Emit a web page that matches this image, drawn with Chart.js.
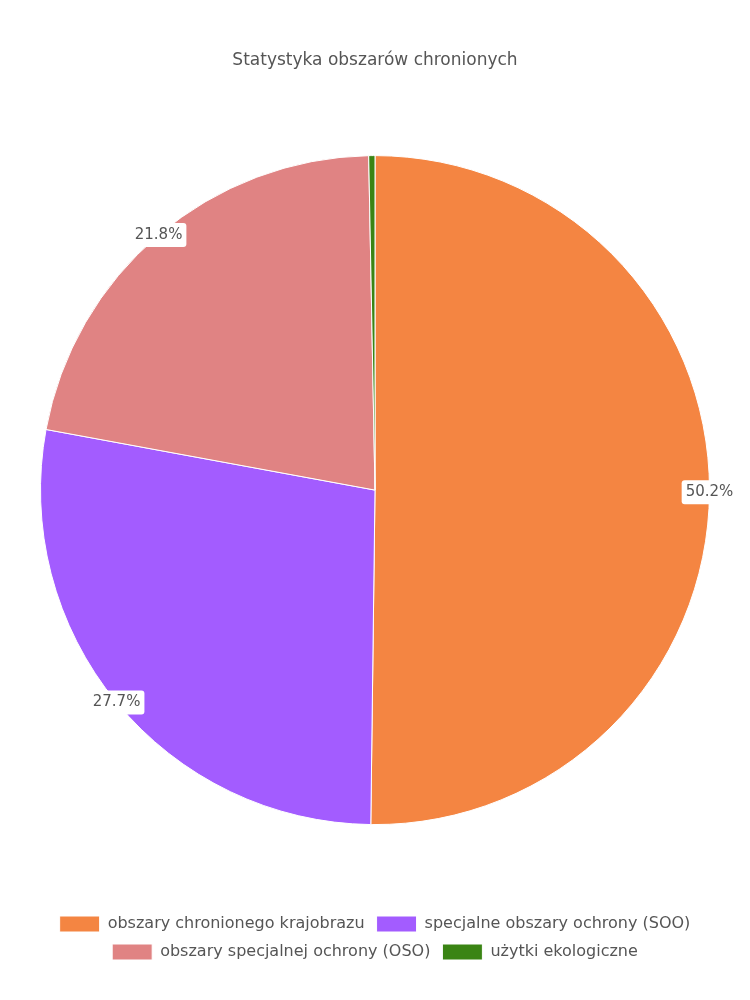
<!DOCTYPE html>
<html>
<head>
<meta charset="utf-8">
<script src="https://cdn.jsdelivr.net/npm/chart.js@4"></script>
<style>
  html, body { margin: 0; padding: 0; background: #fff; }
  #wrap { width: 750px; height: 1000px; }
</style>
</head>
<body>
<div id="wrap"><canvas id="c"></canvas></div>
<script>
const labels = ['obszary chronionego krajobrazu', 'specjalne obszary ochrony (SOO)', 'obszary specjalnej ochrony (OSO)', 'użytki ekologiczne'];
const values = [50.2, 27.7, 21.8, 0.3];
const colors = ['#f48542', '#a35cff', '#e08383', '#3a8414'];

// percent labels sitting on the outer edge of each slice
const edgeLabels = {
  id: 'edgeLabels',
  afterDatasetsDraw(chart) {
    const ctx = chart.ctx;
    const meta = chart.getDatasetMeta(0);
    ctx.save();
    ctx.font = '15px "DejaVu Sans"';
    ctx.textAlign = 'center';
    ctx.textBaseline = 'middle';
    meta.data.forEach((arc, i) => {
      if (values[i] < 2) return;
      const mid = (arc.startAngle + arc.endAngle) / 2;
      const x = arc.x + Math.cos(mid) * arc.outerRadius;
      const y = arc.y + Math.sin(mid) * arc.outerRadius;
      const text = values[i].toFixed(1) + '%';
      const w = ctx.measureText(text).width + 8;
      ctx.fillStyle = '#fff';
      ctx.beginPath();
      ctx.roundRect(x - w / 2, y - 12, w, 24, 3);
      ctx.fill();
      ctx.fillStyle = '#555';
      ctx.fillText(text, x, y);
    });
    ctx.restore();
  }
};

new Chart(document.getElementById('c'), {
  type: 'pie',
  data: {
    labels: labels,
    datasets: [{
      data: values,
      backgroundColor: colors,
      borderColor: '#fff',
      borderWidth: 1
    }]
  },
  options: {
    responsive: true,
    maintainAspectRatio: false,
    animation: false,
    layout: { padding: { left: 40, right: 40, top: 0, bottom: 30 } },
    plugins: {
      title: {
        display: true,
        text: 'Statystyka obszarów chronionych',
        color: '#555',
        font: { family: 'DejaVu Sans', size: 17, weight: 'normal' },
        padding: { top: 50, bottom: 70 }
      },
      legend: {
        position: 'bottom',
        title: { display: true, text: ' ', font: { size: 16 }, padding: { top: 0, bottom: 45 } },
        labels: {
          boxWidth: 40,
          boxHeight: 16,
          color: '#555',
          padding: 12,
          font: { family: 'DejaVu Sans', size: 16 }
        }
      },
      tooltip: { enabled: false }
    }
  },
  plugins: [edgeLabels]
});
</script>
</body>
</html>
